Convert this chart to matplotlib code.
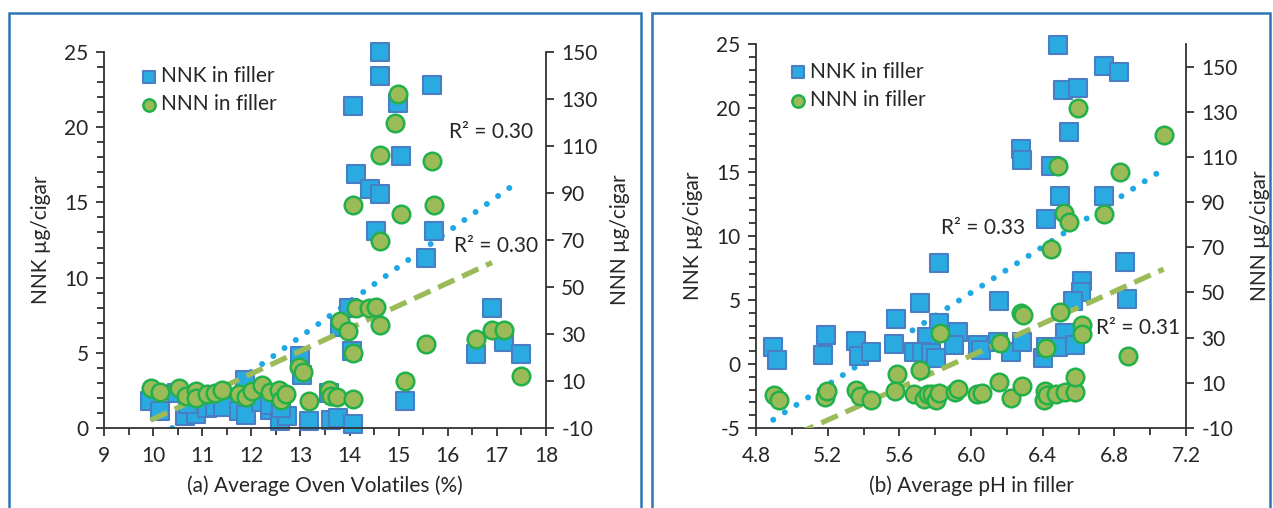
import numpy as np
import matplotlib.pyplot as plt
from matplotlib.patches import Rectangle
from matplotlib.ticker import MultipleLocator

plt.rcParams['font.family'] = ['Lato', 'DejaVu Sans']
plt.rcParams['axes.unicode_minus'] = False

# (a) oven volatiles panel
ov_nnk_x = [14.62, 14.62, 15.68, 14.07, 14.99, 15.05, 14.14, 14.41, 14.62, 14.53,
            15.72, 15.56, 13.99, 16.91, 13.80, 13.00, 13.04, 14.05, 16.58, 17.15,
            17.50, 15.12, 11.87, 9.94, 10.14, 10.48, 10.65, 10.88, 11.10, 11.25,
            11.42, 11.74, 11.89, 12.20, 12.38, 12.38, 12.58, 12.72, 13.18, 13.63,
            13.76, 14.07, 13.58, 10.72, 12.60]
ov_nnk_y = [25.0, 23.4, 22.8, 21.4, 21.6, 18.1, 16.9, 15.9, 15.55, 13.1,
            13.1, 11.3, 8.0, 8.0, 6.7, 4.8, 3.5, 5.1, 4.9, 5.7,
            4.9, 1.8, 3.2, 1.8, 1.1, 2.3, 0.8, 0.9, 1.3, 1.4,
            1.4, 1.1, 0.85, 1.7, 1.2, 1.5, 0.45, 0.8, 0.45, 0.55,
            0.65, 0.25, 2.3, 1.6, 1.3]
ov_nnn_x = [14.99, 14.93, 14.62, 15.68, 14.07, 15.72, 15.05, 14.62, 14.14, 14.40,
            14.53, 13.80, 13.97, 14.63, 14.07, 15.55, 16.57, 16.91, 17.15, 17.50,
            15.12, 12.98, 13.05, 13.17, 13.59, 13.63, 13.75, 14.06, 9.95, 10.14,
            10.53, 10.67, 10.87, 10.88, 11.10, 11.25, 11.41, 11.74, 11.89, 12.01,
            12.21, 12.37, 12.57, 12.60, 12.71]
ov_nnn_y = [132, 120, 106, 103.5, 85, 85, 81, 69.5, 41, 41,
            41.5, 35.7, 31.4, 33.8, 22, 25.7, 27.9, 31.8, 31.8, 12.2,
            10, 15.8, 13.7, 1.5, 6, 3.7, 3, 2.2, 7, 5.2,
            7.2, 3.6, 5.8, 2.8, 4.3, 5, 6.3, 4.6, 3, 5.6,
            8.3, 5.5, 6.2, 1.8, 4.3]

# trendlines (end points)
ov_nnk_trend_x = [9.93, 17.40]
ov_nnk_trend_y = [-1.07, 16.3]
ov_nnn_trend_x = [9.95, 16.90]
ov_nnn_trend_y = [-6.7, 60.4]

# (b) pH panel
ph_nnk_x = [6.485, 6.743, 6.828, 6.516, 6.598, 6.545, 6.277, 6.286, 6.449, 6.494,
            6.743, 6.416, 5.821, 6.861, 6.621, 6.616, 6.572, 6.872, 5.718, 6.155,
            5.584, 5.821, 5.754, 5.925, 5.190, 5.357, 6.523, 4.896, 4.916, 5.174,
            5.375, 5.440, 5.573, 5.682, 5.727, 5.774, 5.805, 5.905, 6.037, 6.055,
            6.153, 6.226, 6.286, 6.404, 6.416, 6.483, 6.578]
ph_nnk_y = [24.9, 23.3, 22.8, 21.4, 21.6, 18.1, 16.8, 15.9, 15.5, 13.1,
            13.1, 11.3, 7.9, 8.0, 6.5, 5.6, 4.9, 5.1, 4.8, 4.9,
            3.5, 3.2, 2.1, 2.5, 2.25, 1.8, 2.4, 1.35, 0.3, 0.7,
            0.65, 0.9, 1.6, 0.95, 0.95, 0.85, 0.5, 1.45, 1.45, 1.1,
            1.7, 0.95, 1.7, 0.5, 1.35, 1.3, 1.5]
ph_nnn_x = [4.901, 4.927, 5.185, 5.198, 5.358, 5.382, 5.442, 5.587, 5.578, 5.717,
            5.684, 5.739, 5.761, 5.785, 5.807, 5.822, 5.826, 5.910, 5.927, 6.033,
            6.060, 6.156, 6.161, 6.226, 6.284, 6.281, 6.290, 6.406, 6.413, 6.424,
            6.418, 6.473, 6.497, 6.523, 6.578, 6.580, 6.620, 6.620, 6.446, 6.877,
            6.598, 7.075, 6.486, 6.831, 6.519, 6.547, 6.743]
ph_nnn_y = [4.8, 2.4, 3.6, 6.3, 7, 4.1, 2.2, 13.9, 6.3, 15.8,
            5.1, 2.9, 5.1, 5.1, 2.2, 5.5, 31.9, 6.1, 7.3, 5.1,
            5.4, 10.2, 27.8, 3.2, 8.4, 41, 40, 2.2, 6.5, 4.8,
            25.6, 5.1, 41.4, 5.8, 5.8, 12.4, 35.4, 31.4, 69.2, 21.9,
            131.6, 119.9, 106.2, 103.2, 85.3, 81.2, 84.9]

ph_nnk_trend_x = [4.896, 7.05]
ph_nnk_trend_y = [-4.36, 15.0]
ph_nnn_trend_x = [4.896, 7.075]
ph_nnn_trend_y = [-17.3, 60.3]

TXT = '#262626'
SQ_FILL, SQ_EDGE = '#29abe2', '#4a7ec4'
CI_FILL, CI_EDGE = '#9bbb59', '#22b04b'
FS = 15

fig = plt.figure(figsize=(12.73, 5.08), dpi=100)

# blue frames around each panel
for x0, x1 in [(9, 641), (652, 1270)]:
    fig.patches.append(Rectangle((x0 / 1273, -0.02), (x1 - x0) / 1273, 0.02 + (508 - 13) / 508,
                                 transform=fig.transFigure, fill=False,
                                 edgecolor='#2e75b6', lw=1.8))


def panel(rect, nx, ny, cx, cy, tnx, tny, tcx, tcy, xlim, xmaj, xmin, ylim, ylim2, y2ticks,
          xlabel, r2a, r2b, leg_anchor):
    ax = fig.add_axes(rect)
    ax2 = ax.twinx()
    ax.plot(tnx, tny, color='#1fa8e6', lw=4.3, ls=(0, (0.01, 2.3)),
            dash_capstyle='round', zorder=1)
    ax.scatter(nx, ny, marker='s', s=160, c=SQ_FILL, edgecolors=SQ_EDGE,
               linewidths=1.5, zorder=2, label='NNK in filler', clip_on=False)
    ax2.plot(tcx, tcy, color=CI_FILL, lw=3.8, ls=(0, (3.4, 1.6)), zorder=1)
    ax2.scatter(cx, cy, marker='o', s=160, c=CI_FILL, edgecolors=CI_EDGE,
                linewidths=1.8, zorder=2, label='NNN in filler', clip_on=False)

    ax.set_xlim(*xlim)
    ax.set_ylim(*ylim)
    ax2.set_ylim(*ylim2)
    ax.xaxis.set_major_locator(MultipleLocator(xmaj))
    ax.xaxis.set_minor_locator(MultipleLocator(xmin))
    ax.yaxis.set_major_locator(MultipleLocator(5))
    ax.yaxis.set_minor_locator(MultipleLocator(1))
    ax2.set_yticks(y2ticks)

    for a in (ax, ax2):
        for s in a.spines.values():
            s.set_visible(False)
            s.set_color('#333333')
            s.set_linewidth(1.3)
        a.tick_params(which='both', direction='out', colors='#333333',
                      labelcolor=TXT, labelsize=FS, width=1.3)
        a.tick_params(which='major', length=6)
        a.tick_params(which='minor', length=5)
    ax.spines['left'].set_visible(True)
    ax.spines['bottom'].set_visible(True)
    ax2.spines['right'].set_visible(True)
    ax.tick_params(axis='x', pad=7)
    ax.tick_params(axis='y', pad=5)
    ax2.tick_params(axis='y', pad=5)

    ax.set_xlabel(xlabel, fontsize=FS, color=TXT, labelpad=7)
    ax.set_ylabel('NNK µg/cigar', fontsize=FS, color=TXT, labelpad=10)
    ax2.set_ylabel('NNN µg/cigar', fontsize=FS, color=TXT, labelpad=9)

    ax.text(r2a[0], r2a[1], 'R² = ' + r2a[2], fontsize=FS, color=TXT,
            ha='center', va='center', zorder=5)
    ax.text(r2b[0], r2b[1], 'R² = ' + r2b[2], fontsize=FS, color=TXT,
            ha='center', va='center', zorder=5)

    h1, l1 = ax.get_legend_handles_labels()
    h2, l2 = ax2.get_legend_handles_labels()
    ax2.legend(h1 + h2, l1 + l2, loc='upper left', bbox_to_anchor=leg_anchor,
               frameon=False, fontsize=FS, handletextpad=0.05, markerscale=0.7,
               labelspacing=0.4, borderaxespad=0, handlelength=1.0,
               labelcolor=TXT)
    return ax, ax2


panel([104 / 1273, 80 / 508, 442 / 1273, 376 / 508],
      ov_nnk_x, ov_nnk_y, ov_nnn_x, ov_nnn_y,
      ov_nnk_trend_x, ov_nnk_trend_y, ov_nnn_trend_x, ov_nnn_trend_y,
      (9, 18), 1, 0.5, (0, 25), (-10, 150), range(-10, 151, 20),
      '(a) Average Oven Volatiles (%)',
      (16.88, 19.7, '0.30'), (16.98, 12.1, '0.30'), (0.06, 0.985))

panel([756 / 1273, 80 / 508, 430 / 1273, 384 / 508],
      ph_nnk_x, ph_nnk_y, ph_nnn_x, ph_nnn_y,
      ph_nnk_trend_x, ph_nnk_trend_y, ph_nnn_trend_x, ph_nnn_trend_y,
      (4.8, 7.2), 0.4, 0.2, (-5, 25), (-10, 160), range(-10, 151, 20),
      '(b) Average pH in filler',
      (6.07, 10.6, '0.33'), (6.93, 2.8, '0.31'), (0.055, 0.975))

fig.savefig('out.png', dpi=100)
